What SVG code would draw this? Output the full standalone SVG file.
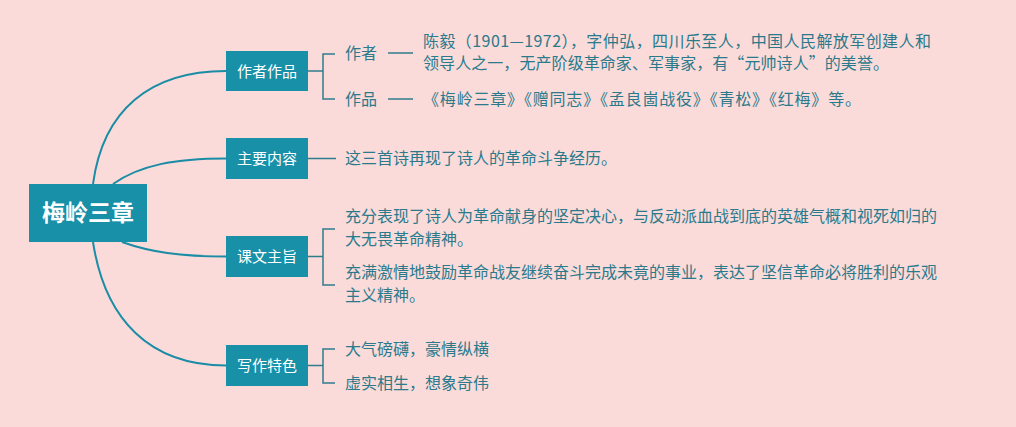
<svg xmlns="http://www.w3.org/2000/svg" width="1016" height="427" viewBox="0 0 1016 427">
<style>
.bg{fill:#FADBDA}
.box{fill:#1790A8}
.main{fill:none;stroke:#1A8CA5;stroke-width:2}
.sub{fill:none;stroke:#2F7C8D;stroke-width:1.5}
.rt{font-family:"Noto Sans CJK SC","Noto Sans",sans-serif;font-size:23px;font-weight:bold;fill:#FFFFFF;text-anchor:middle}
.bt{font-family:"Noto Sans CJK SC","Noto Sans",sans-serif;font-size:15px;fill:#FFFFFF;text-anchor:middle}
.tx{font-family:"Noto Sans CJK SC","Noto Sans",sans-serif;font-size:16px;fill:#2A7A8B}
</style>
<rect class="bg" x="0" y="0" width="1016" height="427"/>
<g id="connectors">
<path class="main" d="M93,184 C103,110 150,71 226,71"/>
<path class="main" d="M113,184 C140,165 175,158.5 226,158.5"/>
<path class="main" d="M122,242 C150,252 180,256.5 226,256.5"/>
<path class="main" d="M93,242 C105,320 150,365.5 226,365.5"/>
<path class="sub" d="M308,71 H323 M335,54 H323 V99 H335"/>
<path class="sub" d="M388,53 H413 M388,99 H413"/>
<path class="sub" d="M308,158.5 H336"/>
<path class="sub" d="M308,256.5 H323 M335,229 H323 V285 H335"/>
<path class="sub" d="M308,365.5 H323 M335,349 H323 V383 H335"/>
</g>
<g id="root">
<rect class="box" x="29" y="184" width="118" height="58"/>
<text class="rt" x="88" y="221">梅岭三章</text>
</g>
<g id="n1">
<rect class="box" x="226" y="51" width="82" height="40"/>
<text class="bt" x="267" y="76.5">作者作品</text>
</g>
<g id="n1a">
<text class="tx" x="345" y="59">作者</text>
<text class="tx" x="423" y="47" textLength="508" lengthAdjust="spacing">陈毅（1901—1972），字仲弘，四川乐至人，中国人民解放军创建人和</text>
<text class="tx" x="423" y="69" textLength="466" lengthAdjust="spacing">领导人之一，无产阶级革命家、军事家，有“元帅诗人”的美誉。</text>
</g>
<g id="n1b">
<text class="tx" x="345" y="105">作品</text>
<text class="tx" x="423" y="105" textLength="438" lengthAdjust="spacing">《梅岭三章》《赠同志》《孟良崮战役》《青松》《红梅》等。</text>
</g>
<g id="n2">
<rect class="box" x="226" y="138" width="82" height="41"/>
<text class="bt" x="267" y="164">主要内容</text>
</g>
<g id="n2a">
<text class="tx" x="345" y="164">这三首诗再现了诗人的革命斗争经历。</text>
</g>
<g id="n3">
<rect class="box" x="226" y="236" width="82" height="41"/>
<text class="bt" x="267" y="262">课文主旨</text>
</g>
<g id="n3a">
<text class="tx" x="345" y="222">充分表现了诗人为革命献身的坚定决心，与反动派血战到底的英雄气概和视死如归的</text>
<text class="tx" x="345" y="245">大无畏革命精神。</text>
</g>
<g id="n3b">
<text class="tx" x="345" y="278">充满激情地鼓励革命战友继续奋斗完成未竟的事业，表达了坚信革命必将胜利的乐观</text>
<text class="tx" x="345" y="301">主义精神。</text>
</g>
<g id="n4">
<rect class="box" x="226" y="345" width="82" height="41"/>
<text class="bt" x="267" y="371">写作特色</text>
</g>
<g id="n4a">
<text class="tx" x="345" y="355">大气磅礴，豪情纵横</text>
</g>
<g id="n4b">
<text class="tx" x="345" y="389">虚实相生，想象奇伟</text>
</g>
</svg>
